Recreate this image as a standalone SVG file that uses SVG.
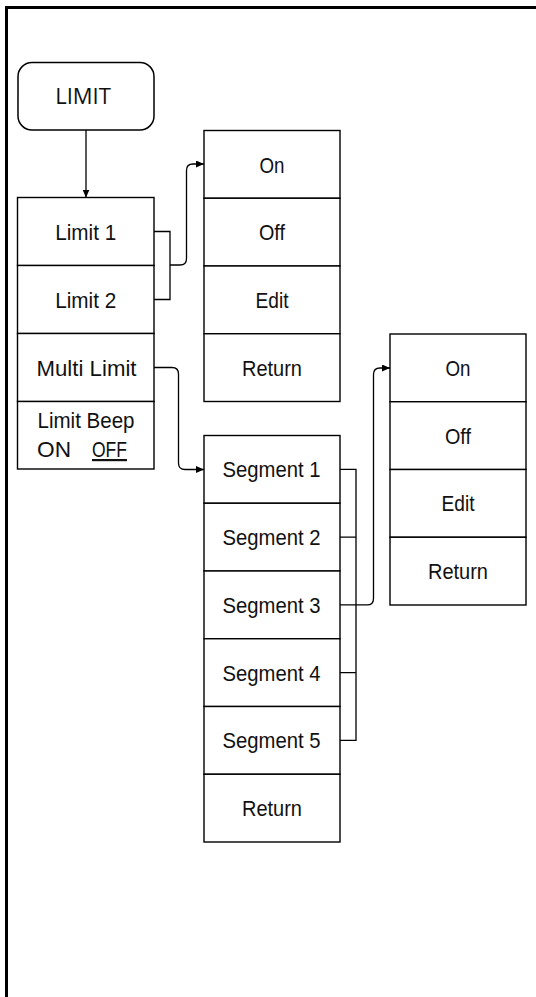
<svg xmlns="http://www.w3.org/2000/svg" width="536" height="997" viewBox="0 0 536 997">
<defs>
<marker id="ah" markerUnits="userSpaceOnUse" markerWidth="9" markerHeight="8" refX="8" refY="3.5" orient="auto">
<path d="M0,0 L8,3.5 L0,7 z" fill="#000"/>
</marker>
</defs>
<style>
.k{fill:#fff;stroke:#000;stroke-width:1.4}
.t{font-family:"Liberation Sans",Arial,sans-serif;font-size:22px;fill:#111;text-anchor:middle}
.c{fill:none;stroke:#000;stroke-width:1.3}
.a{marker-end:url(#ah)}
</style>
<rect width="536" height="997" fill="#fff"/>
<path d="M6.5 997 V7.5 H536" fill="none" stroke="#000" stroke-width="3"/>

<g id="connectors">
<path class="c a" d="M86 130 V197.5"/>
<path class="c" d="M154 231.5 H170 V299.5 H154"/>
<path class="c a" d="M170 265 H180 Q186.5 265 186.5 258.5 V170.5 Q186.5 164 193 164 H204"/>
<path class="c a" d="M154 367.5 H172 Q178.5 367.5 178.5 374 V463 Q178.5 469.5 185 469.5 H204"/>
<path class="c" d="M340 469.4 H356 V740.4 H340 M340 537.1 H356 M340 672.6 H356"/>
<path class="c a" d="M340 604.9 H367 Q373.5 604.9 373.5 598.4 V374.5 Q373.5 368 380 368 H390"/>
</g>

<g id="limit">
<rect x="18" y="62.5" width="136" height="67.5" rx="14" ry="14" fill="#fff" stroke="#000" stroke-width="1.5"/>
<text x="83" y="104" style="font-family:'Open Sans','Liberation Sans',sans-serif;font-size:22px;fill:#111;text-anchor:middle">LIMIT</text>
</g>

<g id="limit1"><rect class="k" x="17.5" y="197.5" width="136.5" height="68"/><text class="t" x="85.75" y="239.5" textLength="61" lengthAdjust="spacingAndGlyphs">Limit 1</text></g>
<g id="limit2"><rect class="k" x="17.5" y="265.5" width="136.5" height="68"/><text class="t" x="85.75" y="307.5" textLength="61" lengthAdjust="spacingAndGlyphs">Limit 2</text></g>
<g id="multilimit"><rect class="k" x="17.5" y="333.5" width="136.5" height="68"/><text class="t" x="86.5" y="375.5" textLength="100" lengthAdjust="spacingAndGlyphs">Multi Limit</text></g>
<g id="limitbeep"><rect class="k" x="17.5" y="401.5" width="136.5" height="67.5"/><text class="t" x="86" y="428" textLength="97" lengthAdjust="spacingAndGlyphs">Limit Beep</text>
<text class="t" style="text-anchor:start" x="37" y="457" textLength="34" lengthAdjust="spacingAndGlyphs">ON</text>
<text class="t" style="text-anchor:start" x="92" y="457" textLength="35" lengthAdjust="spacingAndGlyphs" text-decoration="underline">OFF</text></g>

<g id="l-on"><rect class="k" x="204" y="130.5" width="136" height="67.75"/><text class="t" x="272" y="172.5" textLength="25" lengthAdjust="spacingAndGlyphs">On</text></g>
<g id="l-off"><rect class="k" x="204" y="198.25" width="136" height="67.75"/><text class="t" x="272" y="240.2" textLength="26" lengthAdjust="spacingAndGlyphs">Off</text></g>
<g id="l-edit"><rect class="k" x="204" y="266" width="136" height="67.75"/><text class="t" x="272" y="308" textLength="33" lengthAdjust="spacingAndGlyphs">Edit</text></g>
<g id="l-return"><rect class="k" x="204" y="333.75" width="136" height="67.75"/><text class="t" x="272" y="375.7" textLength="60" lengthAdjust="spacingAndGlyphs">Return</text></g>

<g id="seg1"><rect class="k" x="204" y="435.5" width="136" height="67.75"/><text class="t" x="271.5" y="477.4" textLength="98" lengthAdjust="spacingAndGlyphs">Segment 1</text></g>
<g id="seg2"><rect class="k" x="204" y="503.25" width="136" height="67.75"/><text class="t" x="271.5" y="545.2" textLength="98" lengthAdjust="spacingAndGlyphs">Segment 2</text></g>
<g id="seg3"><rect class="k" x="204" y="571" width="136" height="67.75"/><text class="t" x="271.5" y="612.9" textLength="98" lengthAdjust="spacingAndGlyphs">Segment 3</text></g>
<g id="seg4"><rect class="k" x="204" y="638.75" width="136" height="67.75"/><text class="t" x="271.5" y="680.7" textLength="98" lengthAdjust="spacingAndGlyphs">Segment 4</text></g>
<g id="seg5"><rect class="k" x="204" y="706.5" width="136" height="67.75"/><text class="t" x="271.5" y="748.4" textLength="98" lengthAdjust="spacingAndGlyphs">Segment 5</text></g>
<g id="seg-return"><rect class="k" x="204" y="774.25" width="136" height="67.75"/><text class="t" x="272" y="816.2" textLength="60" lengthAdjust="spacingAndGlyphs">Return</text></g>

<g id="s-on"><rect class="k" x="390" y="334" width="136" height="67.75"/><text class="t" x="458" y="375.9" textLength="25" lengthAdjust="spacingAndGlyphs">On</text></g>
<g id="s-off"><rect class="k" x="390" y="401.75" width="136" height="67.75"/><text class="t" x="458" y="443.6" textLength="26" lengthAdjust="spacingAndGlyphs">Off</text></g>
<g id="s-edit"><rect class="k" x="390" y="469.5" width="136" height="67.75"/><text class="t" x="458" y="511.4" textLength="33" lengthAdjust="spacingAndGlyphs">Edit</text></g>
<g id="s-return"><rect class="k" x="390" y="537.25" width="136" height="67.75"/><text class="t" x="458" y="579.1" textLength="60" lengthAdjust="spacingAndGlyphs">Return</text></g>
</svg>
